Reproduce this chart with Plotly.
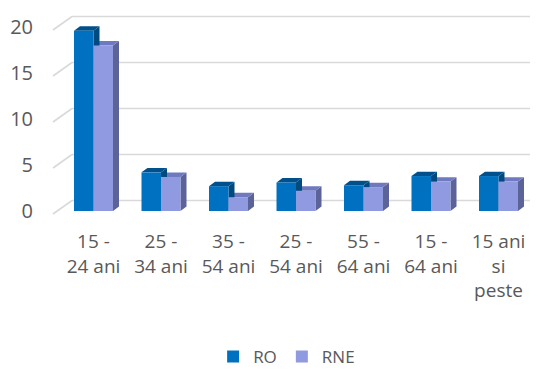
import plotly.graph_objects as go

categories = ["15 -<br>24 ani", "25 -<br>34 ani", "35 -<br>54 ani", "25 -<br>54 ani",
              "55 -<br>64 ani", "15 -<br>64 ani", "15 ani<br>si<br>peste"]
ro = [19.6, 4.2, 2.7, 3.1, 2.8, 3.8, 3.8]
rne = [18.0, 3.7, 1.5, 2.2, 2.6, 3.2, 3.2]
y_ticks = [0, 5, 10, 15, 20]

# the page body has an 8px margin, so the figure is shifted by OFF
OFF = 8
W, H = 541 - OFF, 370 - OFF
L, R, T, B = 48 - OFF, 535 - OFF, 10 - OFF, 220 - OFF
KX = 67.5          # px per category
KY = 9.2           # px per value unit
X0PX = 59.75 - OFF # left edge of first category
Y0PX = 211 - OFF   # pixel of value 0 (bar base)

xr = [-0.5 - (X0PX - L) / KX, -0.5 + (R - X0PX) / KX]
yr = [-(B - Y0PX) / KY, (Y0PX - T) / KY]

def xd(px):
    return -0.5 + (px - OFF - X0PX) / KX

bw = 19.5 / KX
dx = 6 / KX
dy = 4.4 / KY
back = 10.5 / KY
floor = -3.0 / KY

font = "Open Sans"
grey = "#595959"

fig = go.Figure()
fig.add_bar(name="RO", x=list(range(len(categories))), y=ro, marker_color="#0070C0",
            marker_line_width=0)
fig.add_bar(name="RNE", x=list(range(len(categories))), y=rne, marker_color="#8F9AE0",
            marker_line_width=0)

shapes = []
# back wall gridlines + left wall diagonals
for v in y_ticks:
    shapes.append(dict(type="line", xref="x", yref="y", x0=xd(72), x1=xd(530),
                       y0=v + back, y1=v + back, line=dict(color="#D9D9D9", width=1.6),
                       layer="below"))
    shapes.append(dict(type="line", xref="x", yref="y", x0=xd(53), x1=xd(72),
                       y0=v + floor, y1=v + back, line=dict(color="#D9D9D9", width=1.6),
                       layer="below"))

def faces(xc, h, top_c, side_c):
    x0, x1 = xc - bw / 2, xc + bw / 2
    top = f"M {x0},{h} L {x1},{h} L {x1+dx},{h+dy} L {x0+dx},{h+dy} Z"
    side = f"M {x1},0 L {x1},{h} L {x1+dx},{h+dy} L {x1+dx},{dy} Z"
    return [dict(type="path", xref="x", yref="y", path=side, fillcolor=side_c,
                 line=dict(width=0), layer="below"),
            dict(type="path", xref="x", yref="y", path=top, fillcolor=top_c,
                 line=dict(width=0), layer="below")]

for i in range(len(categories)):
    shapes += faces(i + bw / 2, rne[i], "#6F79BF", "#5B6399")
    shapes += faces(i - bw / 2, ro[i], "#00508C", "#004A80")

fig.update_layout(
    width=W, height=H,
    margin=dict(l=L, r=W - R, t=T, b=H - B, autoexpand=False),
    plot_bgcolor="white", paper_bgcolor="white",
    barmode="group", bargap=1 - 2 * bw, bargroupgap=0,
    shapes=shapes,
    font=dict(family=font, color=grey),
    xaxis=dict(range=xr, tickvals=list(range(len(categories))), ticktext=categories,
               showgrid=False, zeroline=False, showline=False, ticks="",
               tickfont=dict(size=19, color=grey), ticklabelstandoff=8,
               automargin=False),
    yaxis=dict(range=yr, tickvals=y_ticks, showgrid=False, zeroline=False,
               showline=False, ticks="", tickfont=dict(size=20, color=grey),
               ticklabelstandoff=14, automargin=False),
    legend=dict(orientation="h", x=0.49, xanchor="center",
                y=(B - (357 - OFF)) / (B - T),
                yanchor="middle", font=dict(size=17, color=grey), traceorder="normal"),
    showlegend=True,
)

fig.write_html("out.html")
